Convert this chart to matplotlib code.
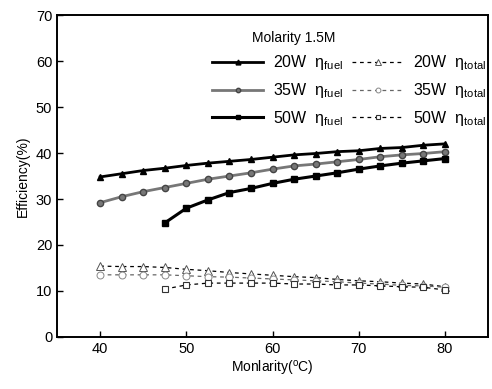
import matplotlib
matplotlib.use("Agg")
import matplotlib.pyplot as plt

plt.rcParams['font.family'] = ['Liberation Sans', 'DejaVu Sans']
plt.rcParams['mathtext.fontset'] = 'custom'
plt.rcParams['mathtext.rm'] = 'Liberation Sans'
plt.rcParams['mathtext.it'] = 'Liberation Sans'

temps = [40, 42.5, 45, 47.5, 50, 52.5, 55, 57.5, 60, 62.5, 65, 67.5, 70, 72.5, 75, 77.5, 80]
temps_50 = temps[3:]

fuel_20 = [34.8, 35.5, 36.2, 36.7, 37.3, 37.8, 38.2, 38.6, 39.1, 39.6, 39.9, 40.3, 40.5, 41.0, 41.2, 41.7, 42.0]
fuel_35 = [29.2, 30.5, 31.6, 32.5, 33.4, 34.3, 35.0, 35.7, 36.5, 37.2, 37.6, 38.1, 38.6, 39.2, 39.6, 39.9, 40.3]
fuel_50 = [24.8, 28.0, 29.8, 31.4, 32.3, 33.4, 34.3, 35.0, 35.7, 36.5, 37.2, 37.8, 38.3, 38.8]

total_20 = [15.4, 15.3, 15.3, 15.1, 14.7, 14.4, 14.0, 13.7, 13.4, 13.1, 12.9, 12.5, 12.2, 12.0, 11.7, 11.5, 10.9]
total_35 = [13.5, 13.5, 13.5, 13.5, 13.3, 13.1, 13.0, 12.8, 12.6, 12.4, 12.2, 12.0, 11.7, 11.5, 11.2, 11.1, 10.8]
total_50 = [10.4, 11.3, 11.7, 11.7, 11.7, 11.7, 11.5, 11.5, 11.3, 11.3, 11.1, 10.9, 10.8, 10.2]

labels_fuel = ['20W', '35W', '50W']

fig = plt.figure(figsize=(4.92, 3.89), dpi=100)
ax = fig.add_axes([0.116, 0.134, 0.876, 0.827])

gray = '#777777'
h1, = ax.plot(temps, fuel_20, color='black', lw=2.0, marker='^', ms=5)
h2, = ax.plot(temps, fuel_35, color=gray, lw=2.0, marker='o', ms=4.5, mfc=gray, mec='#444444')
h3, = ax.plot(temps_50, fuel_50, color='black', lw=2.2, marker='s', ms=5)

dash = (0, (3, 3))
h4, = ax.plot(temps, total_20, color='black', lw=0.9, ls=dash, marker='^', ms=5.5, mfc='white', mec='#555555', mew=0.7)
h5, = ax.plot(temps, total_35, color='#666666', lw=0.9, ls=dash, marker='o', ms=5, mfc='white', mec='#888888', mew=0.7)
h6, = ax.plot(temps_50, total_50, color='black', lw=0.9, ls=dash, marker='s', ms=5, mfc='white', mec='#333333', mew=0.8)

ax.set_xlim(35, 85)
ax.set_ylim(0, 70)
ax.set_xticks([40, 50, 60, 70, 80])
ax.set_yticks([0, 10, 20, 30, 40, 50, 60, 70])
ax.tick_params(direction='in', length=4, width=1, labelsize=10.5, top=False, right=False)
for s in ax.spines.values():
    s.set_linewidth(1.4)

ax.set_xlabel(r'Monlarity($^{\mathregular{o}}$C)', fontsize=10, labelpad=2)
ax.set_ylabel('Efficiency(%)', fontsize=10, labelpad=4)

def lab(w, kind):
    return w + r'  $\mathregular{\eta}_{\mathregular{' + kind + '}}$'

handles = [h1, h2, h3, h4, h5, h6]
labels = [lab(w, 'fuel') for w in labels_fuel] + [lab(w, 'total') for w in labels_fuel]
leg = ax.legend(handles, labels, ncol=2, loc='upper right', frameon=False,
                bbox_to_anchor=(1.0, 0.957),
                title='Molarity 1.5M', fontsize=11.5, title_fontsize=10,
                handlelength=3.2, columnspacing=0.6, handletextpad=0.6,
                labelspacing=0.55, borderaxespad=0.0, markerscale=0.7,
                borderpad=0.1)
leg._legend_box.align = 'left'
leg.get_title().set_position((40, 0))

fig.savefig('out.png', dpi=100)
